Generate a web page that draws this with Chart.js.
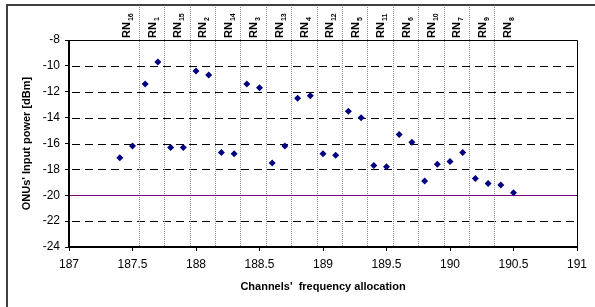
<!DOCTYPE html>
<html>
<head>
<meta charset="utf-8">
<script src="https://cdn.jsdelivr.net/npm/chart.js@4/dist/chart.umd.min.js"></script>
<style>
html,body{margin:0;padding:0;background:#fff;}
canvas{display:block;}
</style>
</head>
<body>
<canvas id="c" width="595" height="307"></canvas>
<script>
// Data
const freq = [187.4,187.5,187.6,187.7,187.8,187.9,188.0,188.1,188.2,188.3,188.4,188.5,188.6,188.7,188.8,188.9,
              189.0,189.1,189.2,189.3,189.4,189.5,189.6,189.7,189.8,189.9,190.0,190.1,190.2,190.3,190.4,190.5];
const power = [-17.1,-16.2,-11.4,-9.7,-16.3,-16.3,-10.4,-10.7,-16.7,-16.8,-11.4,-11.7,-17.5,-16.2,-12.5,-12.3,
               -16.8,-16.9,-13.5,-14.0,-17.7,-17.8,-15.3,-15.9,-18.9,-17.6,-17.4,-16.7,-18.7,-19.1,-19.2,-19.8];
const separatorX = [187.55,187.75,187.95,188.15,188.35,188.55,188.75,188.95,189.15,189.35,189.55,189.75,189.95,190.15,190.35];
const rnLabelX = [187.45,187.65,187.85,188.05,188.25,188.45,188.65,188.85,189.05,189.25,189.45,189.65,189.85,190.05,190.25,190.45];
const rnNumbers = ['16','1','15','2','14','3','13','4','12','5','11','6','10','7','9','8'];
const dashedY = [-10,-12,-14,-16,-18,-22];
const thresholdY = -20;
const xTicksMin = 187, xTicksMax = 191, xStep = 0.5;
const yTicksMin = -24, yTicksMax = -8, yStep = 2;

const FONT = 'Arial, "Liberation Sans", sans-serif';

const overlay = {
  id: 'overlay',
  beforeDatasetsDraw(chart) {
    const {ctx, chartArea: a, scales: {x, y}} = chart;
    ctx.save();
    ctx.strokeStyle = '#000';
    ctx.lineWidth = 1;
    ctx.setLineDash([8, 5]);
    dashedY.forEach(v => {
      const py = Math.round(y.getPixelForValue(v)) + 0.5;
      ctx.beginPath(); ctx.moveTo(a.left + 3, py); ctx.lineTo(a.right, py); ctx.stroke();
    });
    ctx.strokeStyle = '#8a8a8a';
    ctx.setLineDash([1, 1]);
    separatorX.forEach(v => {
      const px = Math.round(x.getPixelForValue(v)) + 0.5;
      ctx.beginPath(); ctx.moveTo(px, 7); ctx.lineTo(px, a.bottom); ctx.stroke();
    });
    ctx.setLineDash([]);
    ctx.strokeStyle = '#800080';
    const ty = Math.round(y.getPixelForValue(thresholdY)) + 0.5;
    ctx.beginPath(); ctx.moveTo(a.left, ty); ctx.lineTo(a.right, ty); ctx.stroke();
    ctx.restore();
  },
  afterDraw(chart) {
    const {ctx, chartArea: a, scales: {x}} = chart;
    ctx.save();
    ctx.strokeStyle = '#000';
    ctx.lineWidth = 1;
    ctx.beginPath();
    ctx.moveTo(a.left, a.top + 0.5); ctx.lineTo(a.right + 0.5, a.top + 0.5); ctx.lineTo(a.right + 0.5, a.bottom);
    ctx.stroke();
    ctx.lineWidth = 2;
    ctx.beginPath();
    ctx.moveTo(a.left, a.top); ctx.lineTo(a.left, a.bottom); ctx.lineTo(a.right + 1, a.bottom);
    ctx.stroke();
    ctx.strokeStyle = '#404040';
    ctx.lineWidth = 2;
    ctx.beginPath();
    ctx.moveTo(7, 307); ctx.lineTo(7, 5); ctx.lineTo(595, 5);
    ctx.stroke();
    ctx.restore();
    // RN labels, rotated 90deg counter-clockwise
    rnLabelX.forEach((v, i) => {
      const px = x.getPixelForValue(v) + 4;
      ctx.save();
      ctx.translate(px, 38);
      ctx.rotate(-Math.PI / 2);
      ctx.fillStyle = '#000';
      ctx.textAlign = 'left';
      ctx.textBaseline = 'alphabetic';
      ctx.font = 'bold 11px ' + FONT;
      ctx.fillText('RN', 0, 0);
      const w = ctx.measureText('RN').width;
      ctx.font = 'bold 7px ' + FONT;
      ctx.fillText(rnNumbers[i], w + 1, 3);
      ctx.restore();
    });
  }
};

new Chart(document.getElementById('c'), {
  type: 'scatter',
  data: {
    datasets: [{
      data: freq.map((f, i) => ({x: f, y: power[i]})),
      pointStyle: 'rectRot',
      radius: 3.5,
      hoverRadius: 3.5,
      backgroundColor: '#000080',
      borderColor: '#000080',
      borderWidth: 0,
      showLine: false
    }]
  },
  options: {
    responsive: false,
    animation: false,
    devicePixelRatio: 1,
    layout: {padding: {left: 8, right: 18, top: 40, bottom: 0}},
    plugins: {legend: {display: false}, tooltip: {enabled: false}},
    scales: {
      x: {
        type: 'linear',
        min: xTicksMin, max: xTicksMax,
        afterFit(s) { s.height = 60; },
        ticks: {stepSize: xStep, color: '#000', font: {family: FONT, size: 12}, padding: 6, maxRotation: 0,
                callback: v => String(Math.round(v * 10) / 10)},
        grid: {drawOnChartArea: false, drawTicks: true, tickLength: 4, color: '#000'},
        border: {display: false},
        title: {display: true, text: "Channels'  frequency allocation", color: '#000',
                font: {family: FONT, size: 11, weight: 'bold'}, padding: {top: 0, bottom: 13}}
      },
      y: {
        type: 'linear',
        min: yTicksMin, max: yTicksMax,
        afterFit(s) { s.width = 61; },
        ticks: {stepSize: yStep, color: '#000', font: {family: FONT, size: 12}, padding: 5},
        grid: {drawOnChartArea: false, drawTicks: true, tickLength: 4, color: '#000'},
        border: {display: false},
        title: {display: true, text: "ONUs' Input power [dBm]", color: '#000',
                font: {family: FONT, size: 11, weight: 'bold'}, padding: {top: 12, bottom: 0}}
      }
    }
  },
  plugins: [overlay]
});
</script>
</body>
</html>
